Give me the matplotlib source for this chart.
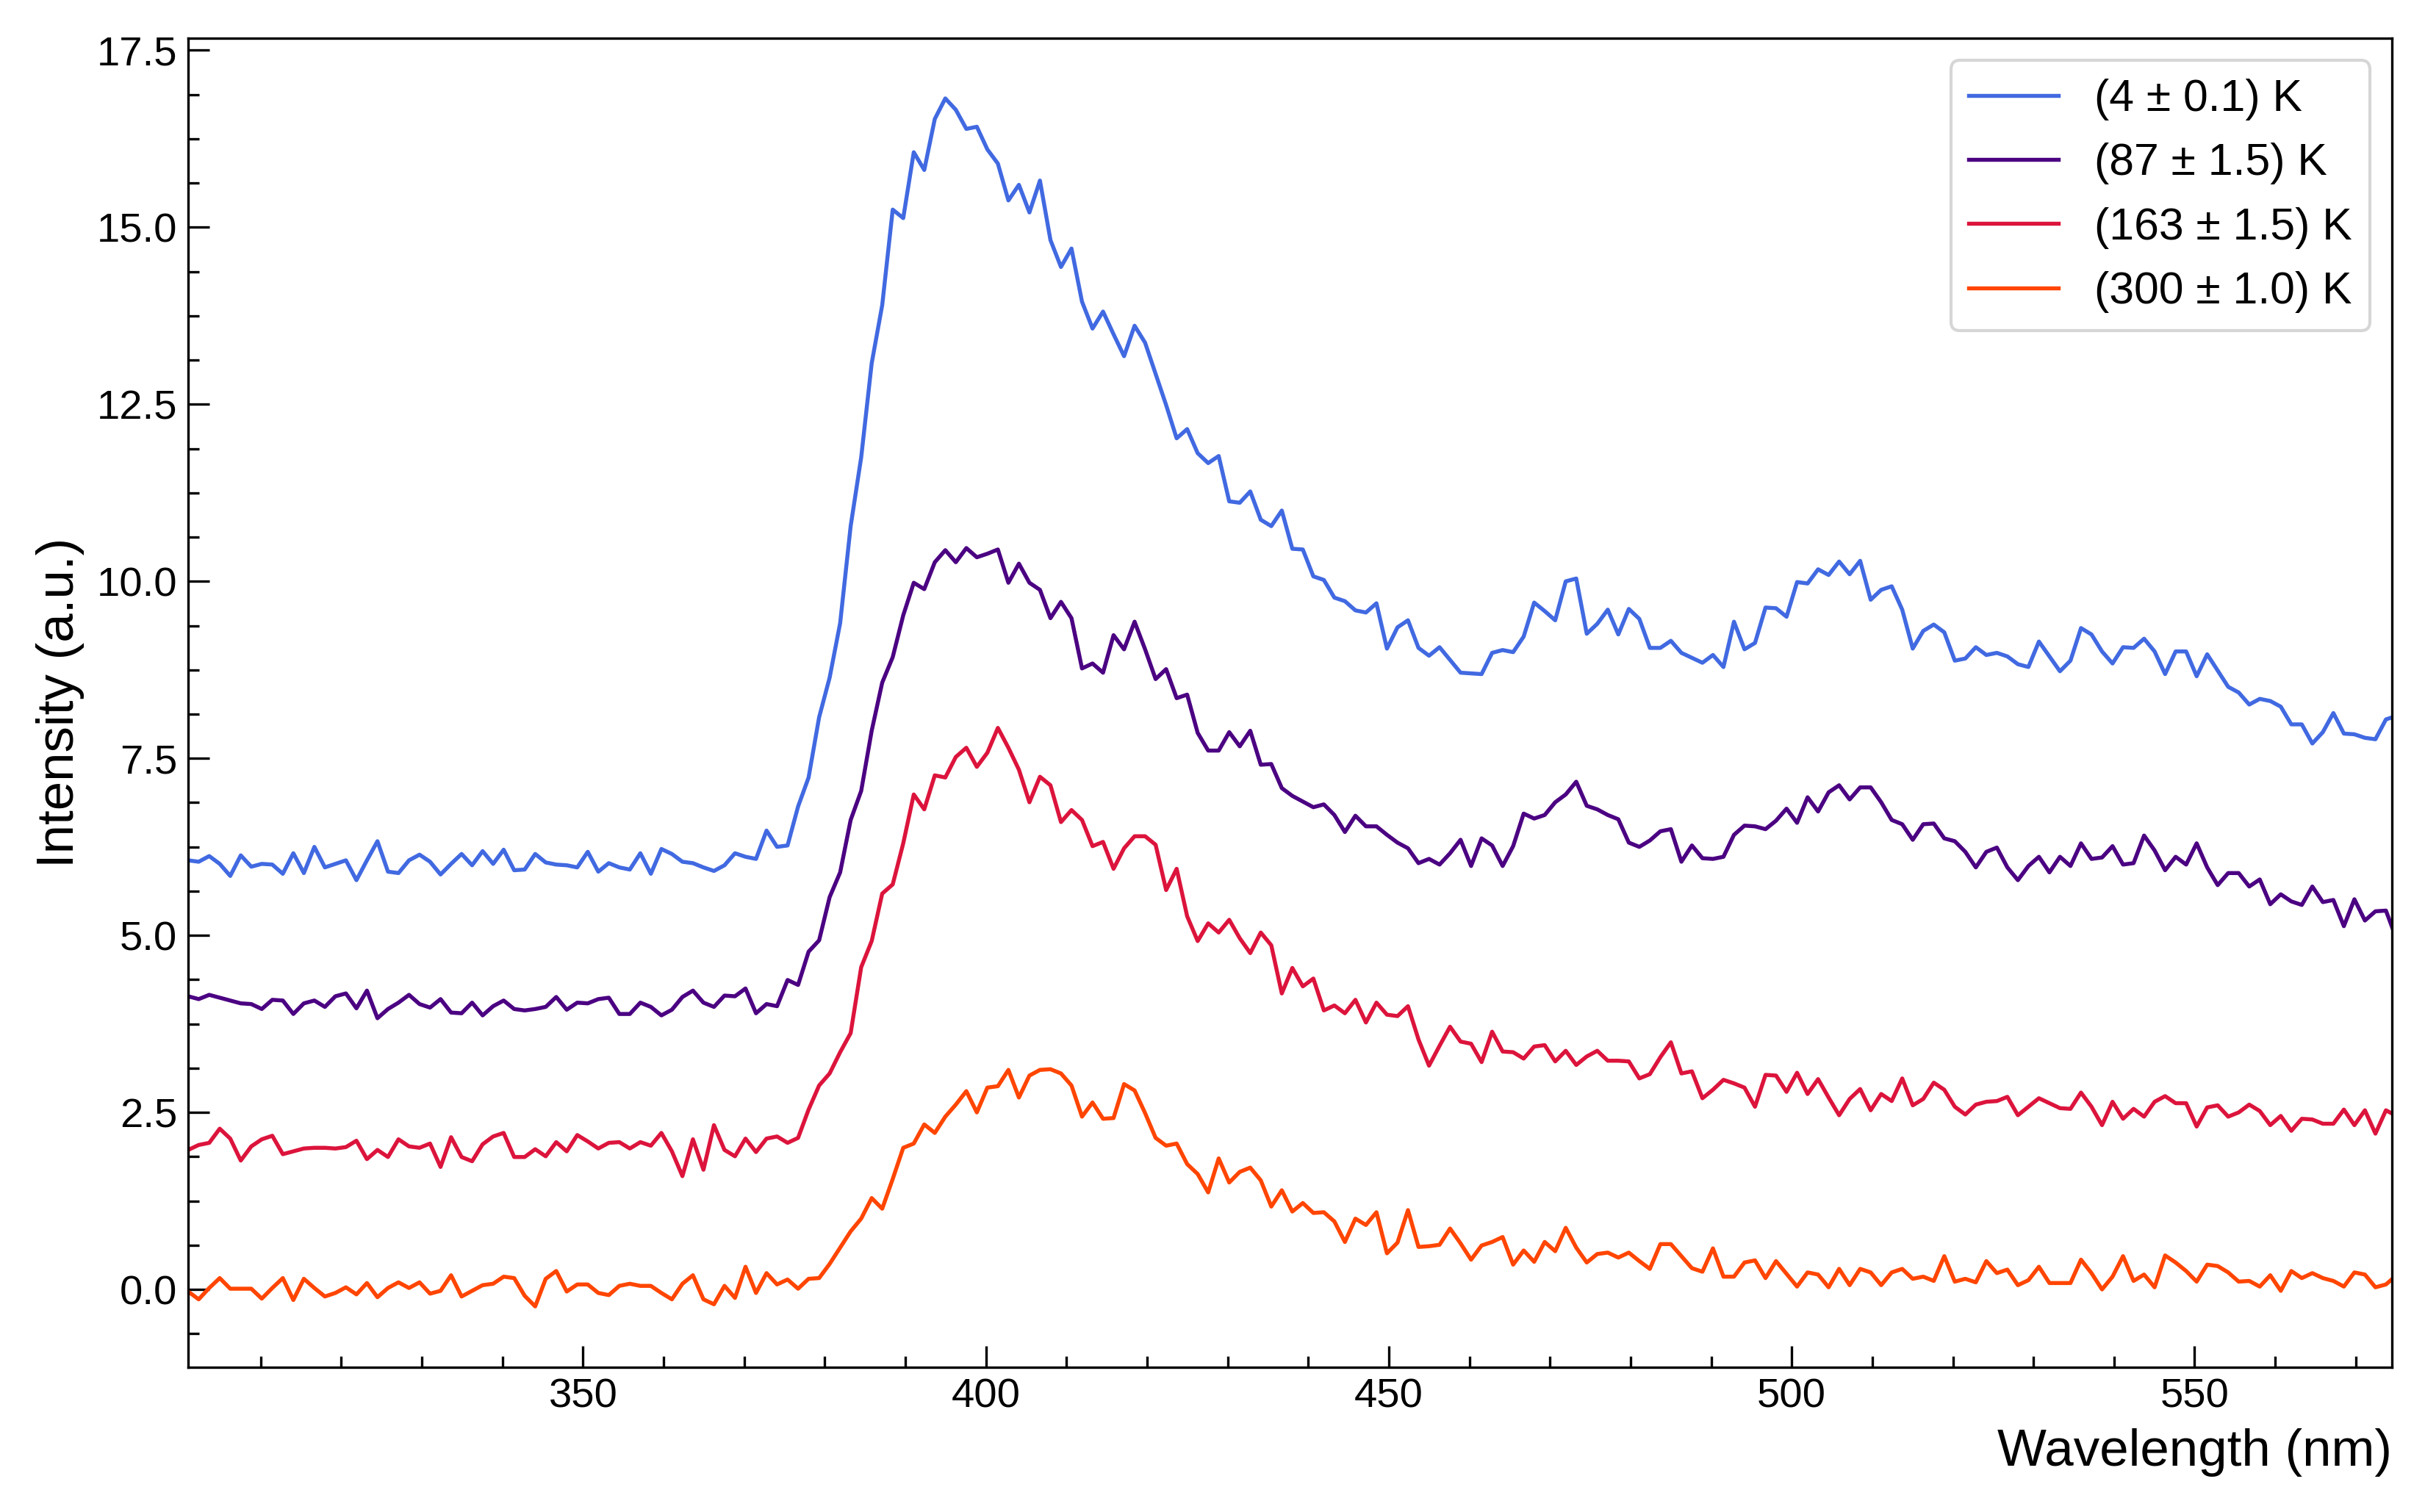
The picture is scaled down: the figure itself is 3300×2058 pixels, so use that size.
import numpy as np
import matplotlib
matplotlib.use("Agg")
import matplotlib.pyplot as plt
from matplotlib.ticker import MultipleLocator, AutoMinorLocator, FormatStrFormatter

# spectrometer grid: first pixel and pixel spacing (nm)
WL_START = 301.0
WL_STEP = 1.305

labels = ["(4 ± 0.1) K", "(87 ± 1.5) K", "(163 ± 1.5) K", "(300 ± 1.0) K"]
colors = ["royalblue", "indigo", "crimson", "orangered"]

# intensities (a.u.)
spec_4k = [
    6.06, 6.04, 6.12, 6.01, 5.84, 6.13, 5.97, 6.01, 6.00, 5.87, 6.16, 5.88, 6.25, 5.96, 6.01, 6.06,
    5.78, 6.06, 6.33, 5.90, 5.88, 6.06, 6.14, 6.04, 5.86, 6.01, 6.15, 5.99, 6.19, 6.01, 6.21, 5.92,
    5.93, 6.15, 6.03, 6.00, 5.99, 5.96, 6.18, 5.90, 6.02, 5.96, 5.93, 6.16, 5.87, 6.22, 6.15, 6.04,
    6.02, 5.96, 5.91, 5.99, 6.16, 6.11, 6.08, 6.48,
    6.25, 6.27, 6.82, 7.23, 8.08, 8.64, 9.41, 10.78, 11.75, 13.08, 13.90, 15.25, 15.13, 16.06, 15.81,
    16.53, 16.82, 16.66, 16.39, 16.42, 16.10, 15.90, 15.38, 15.60, 15.21, 15.66, 14.82, 14.44, 14.70,
    13.95, 13.57, 13.81, 13.49, 13.18, 13.61, 13.37, 12.93, 12.49, 12.02, 12.15, 11.81, 11.67, 11.77,
    11.13, 11.11, 11.27, 10.87, 10.78, 11.00, 10.46, 10.45, 10.07, 10.02, 9.77, 9.72,
    9.59, 9.56, 9.69, 9.05, 9.35, 9.45, 9.06, 8.95, 9.07, 8.89, 8.71, 8.70, 8.69, 8.99, 9.03, 9.00,
    9.22, 9.70, 9.58, 9.45, 10.00, 10.04, 9.26, 9.40, 9.60, 9.25, 9.61, 9.47, 9.06, 9.06, 9.16, 8.99,
    8.92, 8.85, 8.96, 8.79, 9.43, 9.04, 9.13, 9.63, 9.62, 9.50, 9.99, 9.97, 10.17, 10.09, 10.28, 10.10,
    10.29, 9.74, 9.88, 9.93, 9.60, 9.05, 9.30,
    9.39, 9.28, 8.88, 8.91, 9.07, 8.96, 8.99, 8.94, 8.83, 8.79, 9.15, 8.94, 8.73, 8.88, 9.34, 9.25,
    9.01, 8.84, 9.07, 9.06, 9.19, 9.01, 8.69, 9.01, 9.01, 8.66, 8.97, 8.74, 8.51, 8.43, 8.26, 8.34,
    8.31, 8.23, 7.98, 7.98, 7.71, 7.87, 8.14, 7.85, 7.84, 7.79, 7.77, 8.05, 8.10,
]
spec_87k = [
    4.14, 4.10, 4.16, 4.12, 4.08, 4.04, 4.03, 3.96, 4.09, 4.08, 3.89, 4.04, 4.08, 3.99, 4.14, 4.18,
    3.97, 4.22, 3.83, 3.96, 4.05, 4.16, 4.03, 3.98, 4.10, 3.91, 3.90, 4.05, 3.87, 4.00, 4.08, 3.96,
    3.94, 3.96, 3.99, 4.13, 3.95, 4.05, 4.04, 4.10, 4.12, 3.89, 3.89, 4.05, 3.99, 3.87, 3.95, 4.13,
    4.22, 4.05, 3.99, 4.15, 4.14, 4.25, 3.90, 4.03,
    4.00, 4.37, 4.30, 4.77, 4.93, 5.54,
    5.89, 6.63, 7.04, 7.89, 8.57, 8.93, 9.52, 9.98, 9.89, 10.27, 10.44, 10.27, 10.47, 10.34, 10.39,
    10.45, 9.98, 10.25, 9.98, 9.88, 9.48, 9.71, 9.48, 8.77, 8.84, 8.71, 9.24, 9.04, 9.43, 9.04, 8.62,
    8.76, 8.35, 8.40, 7.86, 7.61, 7.61, 7.87, 7.67, 7.89, 7.41, 7.42, 7.08, 6.97, 6.89, 6.81, 6.85,
    6.70, 6.46,
    6.69, 6.54, 6.54, 6.42, 6.31, 6.23, 6.02, 6.08, 6.00, 6.16, 6.35, 5.98, 6.37, 6.27, 5.98, 6.26,
    6.72, 6.65, 6.70, 6.88, 6.99, 7.17, 6.83, 6.78, 6.70, 6.64, 6.31, 6.25, 6.34, 6.47, 6.50, 6.04,
    6.27, 6.09, 6.08, 6.11, 6.42, 6.55, 6.54, 6.50, 6.62, 6.79, 6.59, 6.95, 6.75, 7.02, 7.12, 6.92,
    7.09, 7.09, 6.88, 6.63, 6.57, 6.35, 6.57,
    6.58, 6.37, 6.33, 6.18, 5.96, 6.18, 6.24, 5.96, 5.78, 5.98, 6.11, 5.89, 6.11, 5.98, 6.30, 6.08,
    6.10, 6.26, 6.00, 6.02, 6.41, 6.20, 5.92, 6.11, 6.00, 6.30, 5.96, 5.71, 5.88, 5.88, 5.69, 5.79,
    5.44, 5.58, 5.48, 5.43, 5.69, 5.47, 5.50, 5.13, 5.51, 5.21, 5.34, 5.35, 4.95,
]
spec_163k = [
    1.97, 2.04, 2.07, 2.27, 2.13, 1.82, 2.02, 2.12, 2.17, 1.91, 1.95, 1.99, 2.00, 2.00, 1.99, 2.01,
    2.10, 1.84, 1.97, 1.87, 2.12, 2.02, 2.00, 2.06, 1.73, 2.15, 1.87, 1.81, 2.05, 2.16, 2.21, 1.87,
    1.87, 1.98, 1.88, 2.08, 1.95, 2.18, 2.09, 1.99, 2.07, 2.08, 1.99, 2.08, 2.03, 2.21, 1.95, 1.60,
    2.12, 1.69, 2.32, 1.97, 1.88, 2.13, 1.94, 2.13,
    2.16, 2.07, 2.14, 2.54, 2.88, 3.05, 3.35, 3.62, 4.55, 4.92, 5.59, 5.72, 6.30,
    6.99, 6.78, 7.26, 7.23, 7.52, 7.65, 7.38, 7.58, 7.93, 7.65, 7.34, 6.88, 7.24, 7.12, 6.60, 6.77,
    6.63, 6.26, 6.32, 5.94, 6.23, 6.40, 6.40, 6.28,
    5.64, 5.94, 5.27, 4.92, 5.17, 5.04, 5.22, 4.96, 4.75, 5.04, 4.86, 4.18, 4.54, 4.28, 4.39, 3.94,
    4.01, 3.90,
    4.09, 3.77, 4.05, 3.88, 3.86, 4.00, 3.53, 3.16, 3.44, 3.71, 3.50, 3.47, 3.21, 3.64, 3.36, 3.35,
    3.26, 3.43, 3.45, 3.22, 3.37, 3.17, 3.29, 3.37, 3.23, 3.23, 3.22, 2.98, 3.04, 3.28, 3.49, 3.05,
    3.08, 2.70, 2.82, 2.96, 2.91, 2.85, 2.58, 3.03, 3.02, 2.79, 3.06, 2.76, 2.97, 2.71, 2.46, 2.69,
    2.83, 2.53, 2.76, 2.66, 2.98, 2.60, 2.69,
    2.92, 2.82, 2.58, 2.47, 2.61, 2.65, 2.66, 2.72, 2.46, 2.58, 2.70, 2.63, 2.56, 2.55, 2.78, 2.58,
    2.32, 2.65, 2.41, 2.55, 2.44, 2.65, 2.73, 2.63, 2.63, 2.30, 2.57, 2.60, 2.44, 2.50, 2.61, 2.52,
    2.32, 2.45, 2.24, 2.41, 2.40, 2.34, 2.34, 2.54, 2.32, 2.53, 2.20, 2.53, 2.45,
]
spec_300k = [
    -0.03, -0.14, 0.02, 0.16, 0.01, 0.01, 0.01, -0.13, 0.02, 0.16, -0.15, 0.15, 0.02, -0.10, -0.05,
    0.03, -0.07, 0.09, -0.11, 0.02, 0.10, 0.02, 0.10, -0.06, -0.02, 0.20, -0.10, -0.02, 0.06, 0.08,
    0.18, 0.16, -0.09, -0.24, 0.15, 0.26, -0.03, 0.07, 0.07, -0.05, -0.08, 0.05, 0.08, 0.05, 0.05,
    -0.05, -0.14, 0.08, 0.20, -0.14, -0.21, 0.05, -0.12, 0.32, -0.05, 0.23,
    0.07, 0.14, 0.01, 0.15, 0.16, 0.36, 0.59, 0.82, 1.00, 1.29, 1.14, 1.56, 2.00, 2.06, 2.33, 2.21,
    2.44, 2.61, 2.80, 2.50, 2.85, 2.87, 3.10, 2.71, 3.02, 3.10, 3.11, 3.05, 2.88, 2.44, 2.64, 2.41,
    2.42, 2.90, 2.81, 2.49, 2.14, 2.03, 2.06, 1.77, 1.63, 1.37, 1.85, 1.51, 1.66, 1.72, 1.54, 1.17,
    1.40, 1.10, 1.22, 1.08, 1.09, 0.96, 0.67,
    1.00, 0.91, 1.09, 0.51, 0.66, 1.12, 0.60, 0.61, 0.63, 0.86, 0.65, 0.42, 0.62, 0.67, 0.74, 0.35,
    0.55, 0.39, 0.67, 0.54, 0.87, 0.59, 0.38, 0.50, 0.52, 0.45, 0.52, 0.40, 0.29, 0.64, 0.64, 0.47,
    0.30, 0.25, 0.58, 0.18, 0.18, 0.38, 0.41, 0.16, 0.40, 0.22, 0.04, 0.24, 0.21, 0.03, 0.29, 0.06,
    0.29, 0.24, 0.06, 0.24, 0.29, 0.15, 0.18,
    0.12, 0.47, 0.11, 0.15, 0.10, 0.40, 0.23, 0.28, 0.06, 0.13, 0.32, 0.09, 0.09, 0.09, 0.42, 0.23,
    0.00, 0.18, 0.47, 0.12, 0.21, 0.03, 0.48, 0.38, 0.26, 0.11, 0.35, 0.33, 0.24, 0.11, 0.12, 0.04,
    0.20, -0.02, 0.26, 0.16, 0.23, 0.16, 0.12, 0.04, 0.24, 0.21, 0.03, 0.07, 0.20,
]


def plot_spectra():
    plt.rcParams["font.family"] = ["Liberation Sans", "DejaVu Sans"]

    fig = plt.figure(figsize=(11, 6.86), dpi=300)
    ax = fig.add_axes([0.0776, 0.0957, 0.9088, 0.879])

    for spec, label, color in zip([spec_4k, spec_87k, spec_163k, spec_300k], labels, colors):
        wavelength = WL_START + WL_STEP * np.arange(len(spec))
        ax.plot(wavelength, spec, color=color, lw=1.3, label=label)

    ax.set_xlim(301.0, 574.5)
    ax.set_ylim(-1.1, 17.67)

    ax.xaxis.set_major_locator(MultipleLocator(50))
    ax.xaxis.set_minor_locator(AutoMinorLocator(5))
    ax.yaxis.set_major_locator(MultipleLocator(2.5))
    ax.yaxis.set_minor_locator(AutoMinorLocator(4))
    ax.yaxis.set_major_formatter(FormatStrFormatter("%.1f"))
    ax.tick_params(which="both", direction="in", top=False, right=False, labelsize=13.5)
    ax.tick_params(which="major", length=7, width=0.8)
    ax.tick_params(which="minor", length=3.5, width=0.8)

    ax.set_xlabel("Wavelength (nm)", fontsize=17, loc="right")
    ax.set_ylabel("Intensity (a.u.)", fontsize=17)
    ax.legend(loc="upper right", fontsize=14.6)

    fig.savefig("out.png", dpi=300)


if __name__ == "__main__":
    plot_spectra()
